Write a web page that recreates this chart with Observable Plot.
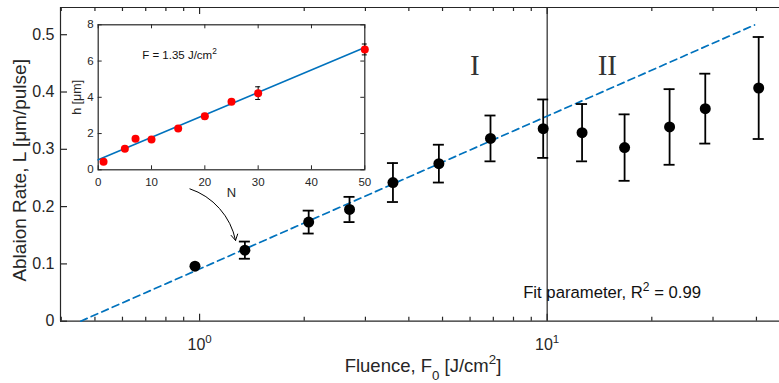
<!DOCTYPE html>
<html><head><meta charset="utf-8">
<script src="https://cdn.jsdelivr.net/npm/d3@7"></script>
<script src="https://cdn.jsdelivr.net/npm/@observablehq/plot@0.6"></script>
<style>
html,body{margin:0;padding:0;background:#fff;}
#wrap{position:relative;width:779px;height:383px;overflow:hidden;}
#wrap svg{position:absolute;}
</style></head><body><div id="wrap"></div>
<script>
// ---- main chart data ----
const fluence = [0.97, 1.35, 2.06, 2.70, 3.60, 4.88, 6.87, 9.74, 12.6, 16.7, 22.5, 28.5, 40.6];
const rate    = [0.096, 0.124, 0.173, 0.195, 0.242, 0.275, 0.319, 0.336, 0.329, 0.303, 0.339, 0.371, 0.407];
const rateErr = [0.0, 0.015, 0.020, 0.022, 0.034, 0.033, 0.040, 0.051, 0.050, 0.058, 0.066, 0.061, 0.089];
const fitF = [0.455, 39.5];
const fitL = [0, 0.517];
const regionBoundary = [10];
const xMajorTicks = [1, 10];
const xMinorTicks = [0.4, 0.5, 0.6, 0.7, 0.8, 0.9, 2, 3, 4, 5, 6, 7, 8, 9, 20, 30, 40];
const yTicks = [0, 0.1, 0.2, 0.3, 0.4, 0.5];
const regionLabels = [{t: "I", f: 6.19, l: 0.446}, {t: "II", f: 14.9, l: 0.446}];
const fitNote = [{t: "Fit parameter, R^2 = 0.99", f: 8.53, l: 0.049}];
const arrowSpec = [{f1: 0.938, l1: 0.231, f2: 1.269, l2: 0.141}];
const xLabel = "Fluence, F_0 [J/cm^2]";
const yLabel = "Ablaion Rate, L [μm/pulse]";

// ---- inset data ----
const insetN   = [1, 5, 7, 10, 15, 20, 25, 30, 50];
const insetH   = [0.44, 1.16, 1.71, 1.67, 2.28, 2.96, 3.75, 4.23, 6.64];
const insetErr = [0.05, 0.08, 0.08, 0.08, 0.08, 0.15, 0.10, 0.35, 0.30];
const insetFitN = [0, 50];
const insetFitH = [0.55, 6.75];
const insetXTicks = [0, 10, 20, 30, 40, 50];
const insetYTicks = [0, 2, 4, 6, 8];
const insetNote = [{t: "F = 1.35 J/cm^2", n: 8.25, h: 6.31}];

const AX = "#262626";
const FONT = "'Liberation Sans', Arial, Helvetica, sans-serif";

const pts = fluence.map((f, i) => ({f, l: rate[i], e: rateErr[i]}));
const errPts = pts.filter(d => d.e > 0);
const fitLine = fitF.map((f, i) => ({f, l: fitL[i]}));

// main geometry
const W = 779, H = 383, mL = 60, mR = 0, mT = 7, mB = 62.3;
const fw = W - mL - mR, fh = H - mT - mB;
const yMax = 0.5475;

const main = Plot.plot({
  width: W, height: H,
  marginLeft: mL, marginRight: mR, marginTop: mT, marginBottom: mB,
  style: {fontFamily: FONT, fontSize: "16px", color: AX, background: "transparent", overflow: "visible"},
  x: {type: "log", domain: [0.398, 46.6]},
  y: {domain: [0, yMax]},
  marks: [
    // frame lines
    Plot.ruleY([0], {stroke: AX, strokeWidth: 1.2}),
    Plot.ruleY([yMax], {stroke: AX, strokeWidth: 1.2}),
    Plot.ruleX([0.398], {stroke: AX, strokeWidth: 1.2}),
    // inward ticks
    Plot.tickX(xMajorTicks, {x: d => d, insetTop: fh - 7, stroke: AX, strokeWidth: 1.2}),
    Plot.tickX(xMajorTicks, {x: d => d, insetBottom: fh - 7, stroke: AX, strokeWidth: 1.2}),
    Plot.tickX(xMinorTicks, {x: d => d, insetTop: fh - 4, stroke: AX, strokeWidth: 1.2}),
    Plot.tickX(xMinorTicks, {x: d => d, insetBottom: fh - 4, stroke: AX, strokeWidth: 1.2}),
    Plot.tickY(yTicks, {y: d => d, insetRight: fw - 7, stroke: AX, strokeWidth: 1.2}),
    Plot.axisX({ticks: xMajorTicks, tickSize: 0, tickPadding: 17, fontSize: 16,
      tickFormat: d => "10^" + Math.round(Math.log10(d)), label: null}),
    Plot.axisY({ticks: yTicks, tickSize: 0, tickPadding: 6, fontSize: 16,
      tickFormat: d => d === 0 ? "0" : d.toFixed(1), label: null}),
    Plot.text([xLabel], {frameAnchor: "bottom", dx: 3, dy: 51, fontSize: 18.5, fill: AX}),
    Plot.text([yLabel], {frameAnchor: "left", textAnchor: "middle", rotate: -90, dx: -41, dy: 6, fontSize: 19, fill: AX}),
    // region boundary
    Plot.ruleX(regionBoundary, {stroke: AX, strokeWidth: 1.2}),
    // fit line
    Plot.line(fitLine, {x: "f", y: "l", stroke: "#0072BD", strokeWidth: 1.7, strokeDasharray: "7,4.5"}),
    // error bars
    Plot.ruleX(errPts, {x: "f", y1: d => d.l - d.e, y2: d => d.l + d.e, stroke: "#000", strokeWidth: 1.8}),
    Plot.ruleY(errPts, {y: d => d.l + d.e, x1: "f", x2: "f", insetLeft: -5.5, insetRight: -5.5, stroke: "#000", strokeWidth: 1.8}),
    Plot.ruleY(errPts, {y: d => d.l - d.e, x1: "f", x2: "f", insetLeft: -5.5, insetRight: -5.5, stroke: "#000", strokeWidth: 1.8}),
    Plot.dot(pts, {x: "f", y: "l", r: 5.5, fill: "#000", stroke: "none"}),
    // annotations
    Plot.text(regionLabels, {x: "f", y: "l", text: "t", fontSize: 29, fontFamily: "'Liberation Serif', 'Times New Roman', serif", fill: "#333"}),
    Plot.text(fitNote, {x: "f", y: "l", text: "t", textAnchor: "start", fontSize: 16.7, fill: "#111"}),
    Plot.arrow(arrowSpec, {x1: "f1", y1: "l1", x2: "f2", y2: "l2", bend: 30, headLength: 10, stroke: "#000", strokeWidth: 1})
  ]
});
main.style.left = "0px"; main.style.top = "0px";

// inset geometry
const iW = 320, iH = 210, imL = 37.7, imR = 15.7, imT = 24.3, imB = 40.7;
const ifw = iW - imL - imR, ifh = iH - imT - imB;
const ipts = insetN.map((n, i) => ({n, h: insetH[i], e: insetErr[i]}));
const ifit = insetFitN.map((n, i) => ({n, h: insetFitH[i]}));

const inset = Plot.plot({
  width: iW, height: iH,
  marginLeft: imL, marginRight: imR, marginTop: imT, marginBottom: imB,
  style: {fontFamily: FONT, fontSize: "11.5px", color: AX, background: "transparent", overflow: "visible"},
  x: {domain: [0, 50]},
  y: {domain: [0, 8]},
  marks: [
    Plot.frame({stroke: AX, strokeWidth: 1.2}),
    Plot.tickX(insetXTicks, {x: d => d, insetTop: ifh - 4, stroke: AX}),
    Plot.tickX(insetXTicks, {x: d => d, insetBottom: ifh - 4, stroke: AX}),
    Plot.tickY(insetYTicks, {y: d => d, insetRight: ifw - 4, stroke: AX}),
    Plot.tickY(insetYTicks, {y: d => d, insetLeft: ifw - 4, stroke: AX}),
    Plot.axisX({ticks: insetXTicks, tickSize: 0, tickPadding: 8.5, fontSize: 11.5, label: null}),
    Plot.axisY({ticks: insetYTicks, tickSize: 0, tickPadding: 4.5, fontSize: 11.5, label: null}),
    Plot.text(["N"], {frameAnchor: "bottom", dy: 27.4, fontSize: 13, fill: AX}),
    Plot.text(["h [μm]"], {frameAnchor: "left", textAnchor: "middle", rotate: -90, dx: -21, fontSize: 12.5, fill: AX}),
    Plot.line(ifit, {x: "n", y: "h", stroke: "#0072BD", strokeWidth: 1.6}),
    Plot.ruleX(ipts, {x: "n", y1: d => d.h - d.e, y2: d => d.h + d.e, stroke: "#000", strokeWidth: 1}),
    Plot.ruleY(ipts, {y: d => d.h + d.e, x1: "n", x2: "n", insetLeft: -2.5, insetRight: -2.5, stroke: "#000", strokeWidth: 1}),
    Plot.ruleY(ipts, {y: d => d.h - d.e, x1: "n", x2: "n", insetLeft: -2.5, insetRight: -2.5, stroke: "#000", strokeWidth: 1}),
    Plot.dot(ipts, {x: "n", y: "h", r: 4, fill: "#ff0000", stroke: "none"}),
    Plot.text(insetNote, {x: "n", y: "h", text: "t", textAnchor: "start", fontSize: 11.5, fill: "#111"})
  ]
});
inset.style.left = "60px"; inset.style.top = "0px";

const wrap = document.getElementById("wrap");
wrap.appendChild(main);
wrap.appendChild(inset);

// turn ^x / _x markup into real superscript / subscript tspans
function richify(root) {
  root.querySelectorAll("text").forEach(el => {
    const s = el.textContent;
    if (!/[\^_]/.test(s)) return;
    const fs = parseFloat(getComputedStyle(el).fontSize) || 16;
    const parts = s.split(/([\^_].)/).filter(p => p);
    el.textContent = "";
    let cur = 0;
    for (const p of parts) {
      const ts = document.createElementNS("http://www.w3.org/2000/svg", "tspan");
      let off = 0, t = p;
      if (p.length === 2 && (p[0] === "^" || p[0] === "_")) {
        t = p[1];
        off = p[0] === "^" ? -0.42 * fs : 0.4 * fs;
        ts.setAttribute("font-size", 0.72 * fs);
      }
      ts.textContent = t;
      if (off - cur !== 0) ts.setAttribute("dy", off - cur);
      cur = off;
      el.appendChild(ts);
    }
  });
}
richify(main);
richify(inset);
</script>
</body></html>
